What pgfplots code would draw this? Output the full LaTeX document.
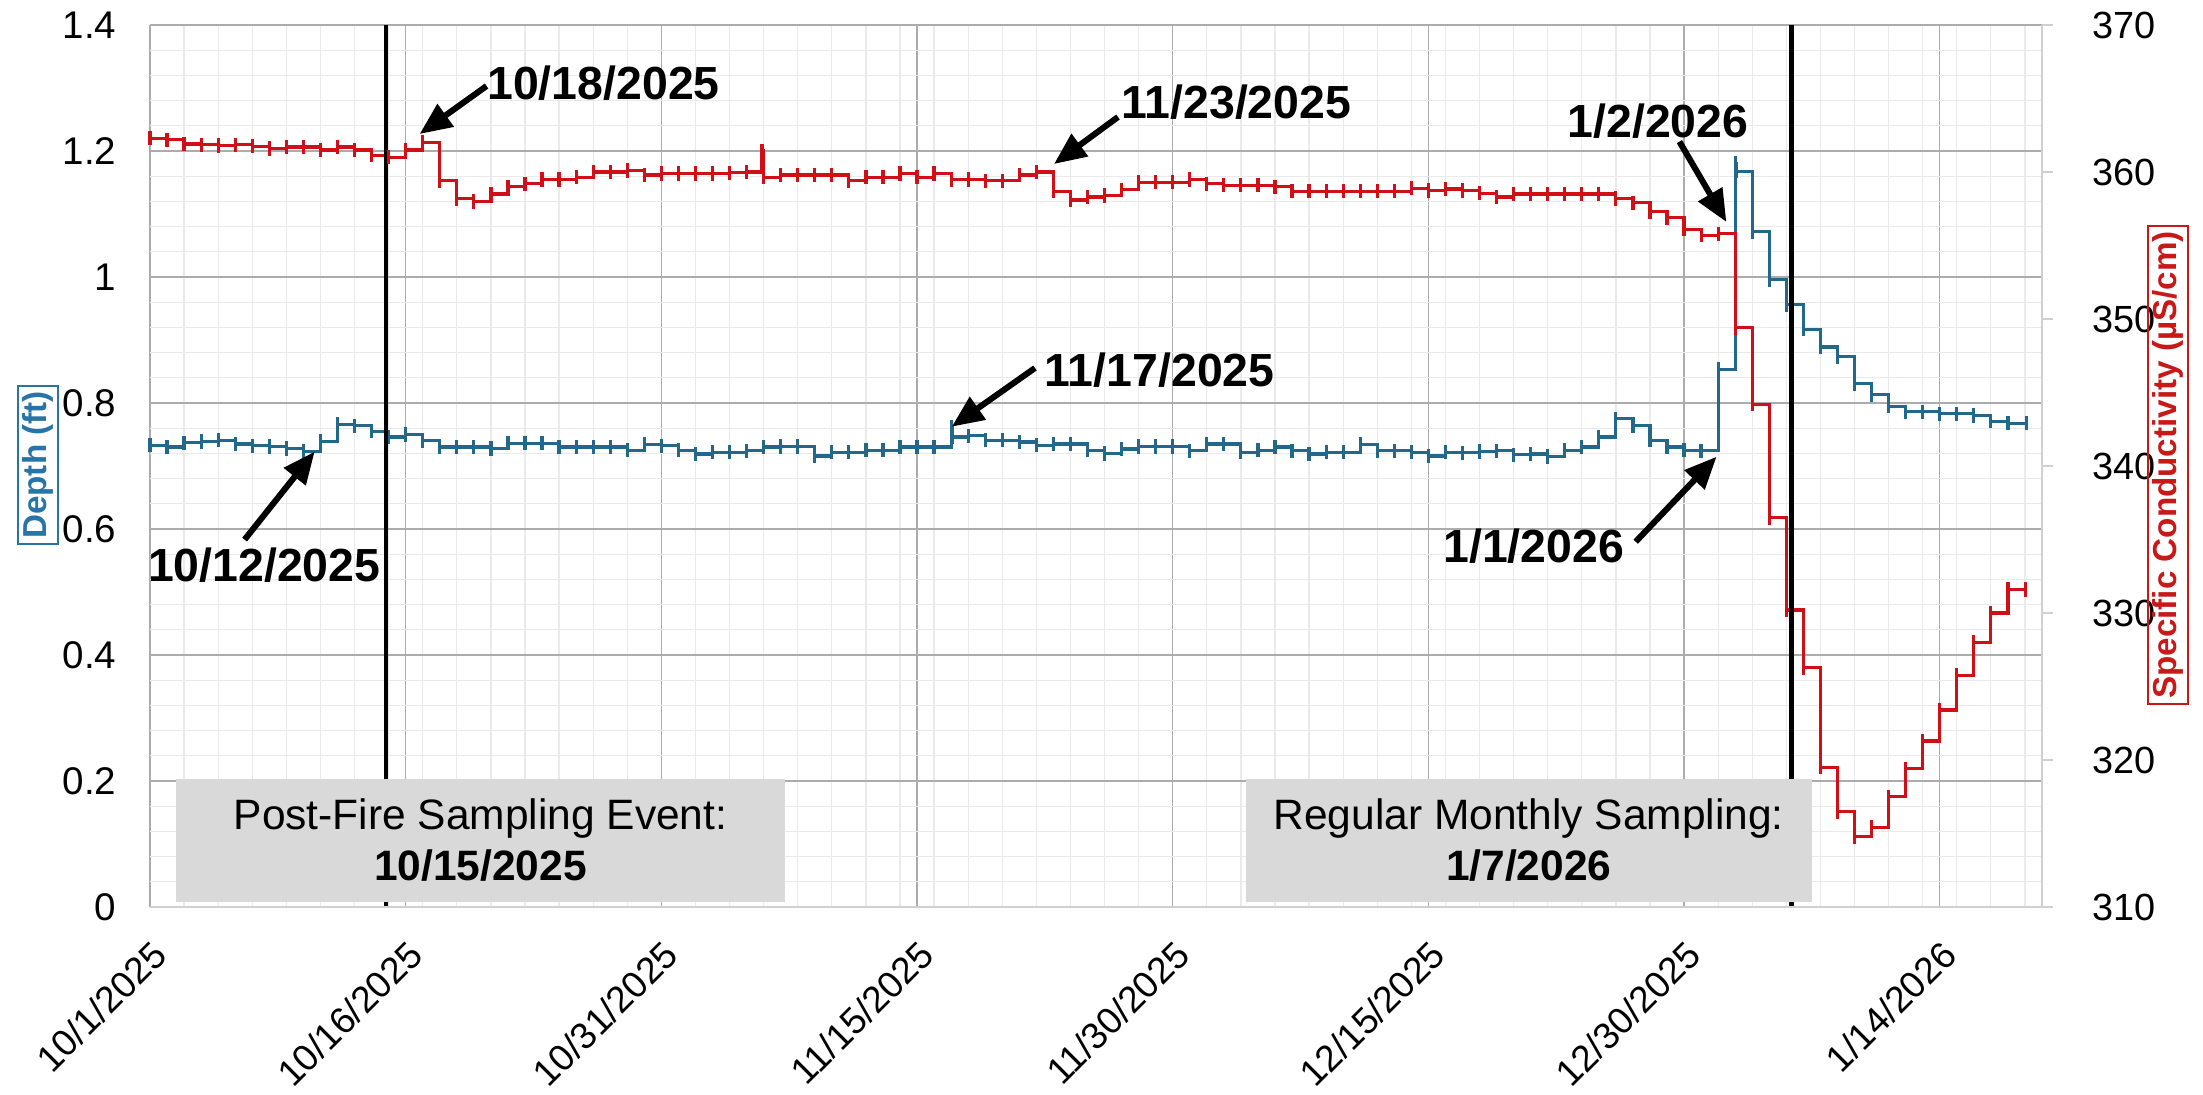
\documentclass[border=0pt]{standalone}
\usepackage{pgfplots}
\pgfplotsset{compat=1.18}
\usepackage{pgfplotstable}
\usepackage{fontspec}
\setmainfont{Liberation Sans}
\usetikzlibrary{arrows.meta}
\definecolor{depthblue}{RGB}{33,104,138}
\definecolor{condred}{RGB}{208,16,22}
\definecolor{lblblue}{RGB}{40,116,166}
\definecolor{lblred}{RGB}{200,24,24}
\definecolor{boxgray}{RGB}{217,217,217}
\definecolor{majgrid}{RGB}{172,172,172}
\definecolor{mingrid}{RGB}{234,234,234}
\definecolor{axgray}{RGB}{208,208,208}

\pgfplotstableread{
day depth
0 0.733
1 0.730
2 0.737
3 0.739
4 0.741
5 0.735
6 0.732
7 0.731
8 0.728
9 0.723
10 0.739
11 0.766
12 0.764
13 0.755
14 0.746
15 0.750
16 0.740
17 0.730
18 0.730
19 0.730
20 0.728
21 0.736
22 0.736
23 0.736
24 0.730
25 0.730
26 0.730
27 0.730
28 0.725
29 0.734
30 0.732
31 0.725
32 0.719
33 0.722
34 0.722
35 0.724
36 0.730
37 0.731
38 0.731
39 0.716
40 0.722
41 0.722
42 0.725
43 0.725
44 0.730
45 0.730
46 0.730
47 0.762
47.08 0.746
48 0.748
49 0.741
50 0.741
51 0.738
52 0.733
53 0.735
54 0.735
55 0.725
56 0.720
57 0.727
58 0.731
59 0.731
60 0.731
61 0.724
62 0.735
63 0.735
64 0.722
65 0.725
66 0.730
67 0.724
68 0.719
69 0.722
70 0.722
71 0.734
72 0.724
73 0.724
74 0.722
75 0.716
76 0.722
77 0.721
78 0.723
79 0.724
80 0.718
81 0.719
82 0.715
83 0.725
84 0.730
85 0.746
86 0.775
87 0.764
88 0.741
89 0.730
90 0.725
91 0.724
92 0.853
93 1.180
93.08 1.168
94 1.072
95 0.996
96 0.956
97 0.917
98 0.889
99 0.874
100 0.831
101 0.813
102 0.795
103 0.786
104 0.786
105 0.783
106 0.783
107 0.780
108 0.771
109 0.768
110.1 0.768
}\depthdata

\pgfplotstableread{
day cond
0 362.3
1 362.2
2 361.9
3 361.85
4 361.8
5 361.85
6 361.75
7 361.6
8 361.7
9 361.7
10 361.5
11 361.7
12 361.5
13 361.15
14 361.0
15 361.5
16 362.0
17 359.4
18 358.2
19 358.0
20 358.5
21 359.0
22 359.2
23 359.5
24 359.5
25 359.65
26 360.0
27 360.0
28 360.1
29 359.8
30 359.9
31 359.9
32 359.9
33 359.9
34 359.95
35 360.0
35.9 361.45
36 359.65
37 359.8
38 359.8
39 359.8
40 359.8
41 359.4
42 359.65
43 359.65
44 359.9
45 359.65
46 359.9
47 359.5
48 359.5
49 359.4
50 359.4
51 359.8
52 360.0
53 358.7
54 358.1
55 358.3
56 358.4
57 358.8
58 359.3
59 359.3
60 359.3
61 359.5
62 359.2
63 359.1
64 359.1
65 359.1
66 359.0
67 358.7
68 358.7
69 358.7
70 358.7
71 358.7
72 358.7
73 358.7
74 358.9
75 358.75
76 358.85
77 358.75
78 358.55
79 358.3
80 358.5
81 358.5
82 358.5
83 358.5
84 358.5
85 358.5
86 358.2
87 357.9
88 357.3
89 356.9
90 356.1
91 355.7
92 355.8
93 349.4
94 344.2
95 336.5
96 330.2
97 326.3
98 319.5
99 316.5
100 314.8
101 315.4
102 317.5
103 319.4
104 321.3
105 323.4
106 325.75
107 328.0
108 330.0
109 331.6
110.05 331.6
}\conddata

\begin{document}
\begin{tikzpicture}
\path[use as bounding box] (0,0) rectangle (616.84pt,306.32pt);
\begin{axis}[
  scale only axis, anchor=south west, at={(42pt,52.36pt)},
  width=529.76pt, height=246.96pt,
  xmin=0, xmax=111, ymin=0, ymax=1.4,
  xtick={0,15,30,45,60,75,90,105},
  xticklabels={10/1/2025,10/16/2025,10/31/2025,11/15/2025,11/30/2025,12/15/2025,12/30/2025,1/14/2026},
  minor xtick={2,4,...,110},
  ytick={0,0.2,0.4,0.6,0.8,1,1.2,1.4},
  minor y tick num=4,
  grid=both,
  major grid style={majgrid, line width=0.35pt},
  minor grid style={mingrid, line width=0.35pt},
  axis line style={draw=none},
  major tick length=0pt, minor tick length=0pt,
  tick style={draw=none},
  xticklabel style={font=\fontsize{10.4}{12}\selectfont, rotate=45, anchor=north east, inner sep=0pt},
  yticklabel style={font=\fontsize{10.8}{12}\selectfont, anchor=east, inner sep=0pt, xshift=-9.2pt},
  /pgf/number format/assume math mode=true,
  xticklabel shift=8.5pt,
]
\addplot[const plot, depthblue, line width=0.9pt, mark=|, mark size=2pt, mark options={solid, line width=0.9pt}] table[x=day,y=depth]{\depthdata};
\end{axis}
\begin{axis}[
  scale only axis, anchor=south west, at={(42pt,52.36pt)},
  width=529.76pt, height=246.96pt,
  xmin=0, xmax=111, ymin=310, ymax=370,
  axis x line=none,
  axis y line*=right,
  axis line style={axgray, line width=0.6pt},
  ytick={310,320,330,340,350,360,370},
  tick align=outside, major tick length=3pt,
  ytick style={axgray, line width=0.6pt},
  yticklabel style={font=\fontsize{10.6}{12}\selectfont, anchor=west, inner sep=0pt, xshift=10.8pt},
  /pgf/number format/assume math mode=true,
]
\addplot[const plot, condred, line width=0.9pt, mark=|, mark size=2pt, mark options={solid, line width=0.9pt}] table[x=day,y=cond]{\conddata};
\addplot[black, line width=1.3pt] coordinates {(13.85,310) (13.85,370.2)};
\addplot[black, line width=1.3pt] coordinates {(96.3,310) (96.3,370.2)};
\end{axis}
\begin{scope}[shift={(0pt,306.32pt)}, x=0.28pt, y=-0.28pt]
  \draw[axgray, line width=0.8pt] (150,907) -- (2042,907);
  % gray boxes
  \fill[boxgray] (176,779) rectangle (785,902);
  \node[anchor=base, inner sep=0pt, font=\fontsize{11.9}{14}\selectfont] at (480.5,829) {Post-Fire Sampling Event:};
  \node[anchor=base, inner sep=0pt, font=\fontsize{11.9}{14}\selectfont\bfseries] at (480.5,880) {10/15/2025};
  \fill[boxgray] (1245.6,779) rectangle (1812,902);
  \node[anchor=base, inner sep=0pt, font=\fontsize{11.9}{14}\selectfont] at (1528.8,829) {Regular Monthly Sampling:};
  \node[anchor=base, inner sep=0pt, font=\fontsize{11.9}{14}\selectfont\bfseries] at (1528.8,880) {1/7/2026};
  % annotations
  \tikzset{ann/.style={anchor=base west, inner sep=0pt, font=\fontsize{13}{15}\selectfont\bfseries},
           arr/.style={line width=1.7pt, -{Triangle[length=9pt,width=7.5pt]}}}
  \node[ann] at (486.6,99.5) {10/18/2025};
  \draw[arr] (486.6,86) -- (419.6,134);
  \node[ann] at (147.3,581.7) {10/12/2025};
  \draw[arr] (244.6,539.6) -- (314.7,451.6);
  \node[ann] at (1120.7,118.3) {11/23/2025};
  \draw[arr] (1118,117) -- (1054,164);
  \node[ann] at (1044,386.7) {11/17/2025};
  \draw[arr] (1035,368) -- (951.7,426.7);
  \node[ann] at (1567,137.8) {1/2/2026};
  \draw[arr] (1679.4,141.6) -- (1726.4,222);
  \node[ann] at (1442.7,562.7) {1/1/2026};
  \draw[arr] (1635.7,541.7) -- (1716.6,456.7);
  % axis labels
  \node[rotate=90, draw=lblblue, line width=0.45pt, text=lblblue, inner xsep=1.5pt, inner ysep=1.3pt,
        font=\fontsize{9.3}{11}\selectfont\bfseries] at (38,465) {Depth (ft)};
  \node[rotate=90, draw=lblred, line width=0.45pt, text=lblred, inner xsep=1.5pt, inner ysep=1.3pt,
        font=\fontsize{9.3}{11}\selectfont\bfseries] at (2168,465) {Specific Conductivity (µS/cm)};
\end{scope}
\end{tikzpicture}
\end{document}
